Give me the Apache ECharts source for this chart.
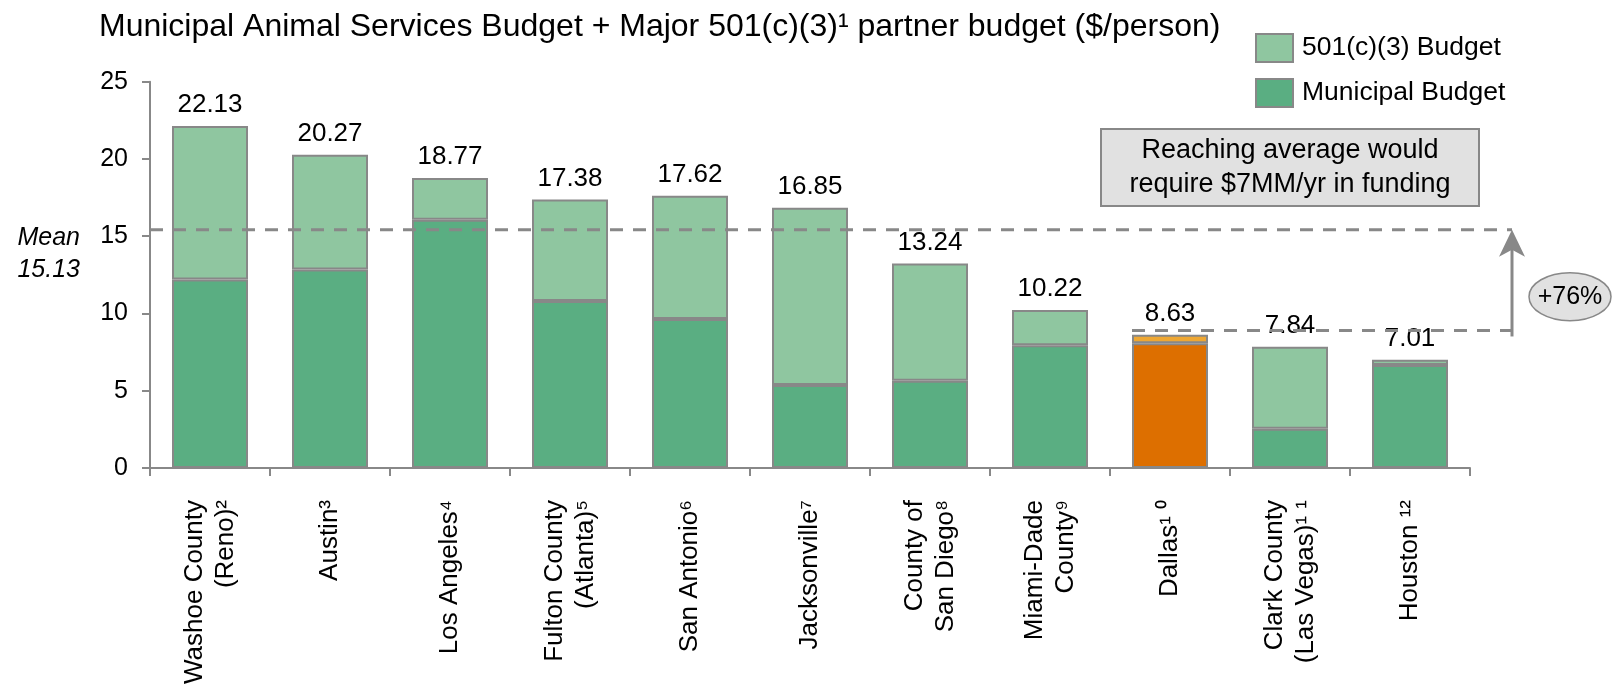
<!DOCTYPE html>
<html>
<head>
<meta charset="utf-8">
<script src="https://cdn.jsdelivr.net/npm/echarts@6/dist/echarts.min.js"></script>
<style>
html,body{margin:0;padding:0;background:#fff;}
#c{width:1622px;height:687px;}
</style>
</head>
<body>
<div id="c"></div>
<script>
// ---- data ----
var categories = ['Washoe County\n(Reno)²', 'Austin³', 'Los Angeles⁴', 'Fulton County\n(Atlanta)⁵', 'San Antonio⁶', 'Jacksonville⁷', 'County of\nSan Diego⁸', 'Miami-Dade\nCounty⁹', 'Dallas¹ ⁰', 'Clark County\n(Las Vegas)¹ ¹', 'Houston ¹²'];
var totals = [22.13, 20.27, 18.77, 17.38, 17.62, 16.85, 13.24, 10.22, 8.63, 7.84, 7.01];
var municipal = [12.2, 12.84, 16.06, 10.8, 9.64, 5.37, 5.65, 7.95, 8.08, 2.54, 6.66];
var partner = [9.93, 7.43, 2.71, 6.58, 7.98, 11.48, 7.59, 2.27, 0.55, 5.30, 0.35];
var yTicks = [0, 5, 10, 15, 20, 25];
var meanValue = '15.13';
var meanLineLevel = 15.42;
var dallasLineLevel = 8.9;
var highlightIndex = 8;
var upliftText = '+76%';
var calloutText = 'Reaching average would\nrequire $7MM/yr in funding';
var titleText = 'Municipal Animal Services Budget + Major 501(c)(3)¹ partner budget ($/person)';

var FONT = '"Liberation Sans", Arial, sans-serif';
var GREY = '#888888';
var DARK = '#5aae82', LIGHT = '#8fc6a0', ORANGE = '#dd6f00', LORANGE = '#eea733';

var chart = echarts.init(document.getElementById('c'), null, {renderer: 'canvas'});

var munData = municipal.map(function (v, i) {
  return i === highlightIndex ? {value: v, itemStyle: {color: ORANGE}} : v;
});
var partData = partner.map(function (v, i) {
  return i === highlightIndex ? {value: v, itemStyle: {color: LORANGE}} : v;
});

var option = {
  animation: false,
  backgroundColor: '#fff',
  textStyle: {fontFamily: FONT},
  title: {
    text: titleText, left: 99, top: 11, padding: 0,
    textStyle: {fontFamily: FONT, fontSize: 32, fontWeight: 'normal', color: '#000'}
  },
  legend: {
    data: ['501(c)(3) Budget', 'Municipal Budget'],
    orient: 'vertical', left: 1255, top: 33, padding: 0,
    itemWidth: 37, itemHeight: 28, itemGap: 15,
    icon: 'rect',
    textStyle: {fontFamily: FONT, fontSize: 26.5, color: '#000', padding: [0, 0, 0, 4]}
  },
  grid: {left: 150, right: 152, top: 81.7, bottom: 217.7, containLabel: false},
  xAxis: {
    type: 'category', data: categories,
    axisLine: {lineStyle: {color: GREY, width: 2}},
    axisTick: {show: true, length: 8, alignWithLabel: false, lineStyle: {color: GREY, width: 2}},
    axisLabel: {rotate: 90, margin: 32, fontFamily: FONT, fontSize: 26, lineHeight: 31, color: '#000', interval: 0}
  },
  yAxis: {
    type: 'value', min: yTicks[0], max: yTicks[yTicks.length - 1], interval: 5,
    axisLine: {show: true, lineStyle: {color: GREY, width: 2}},
    axisTick: {show: true, length: 8, lineStyle: {color: GREY, width: 2}},
    splitLine: {show: false},
    axisLabel: {margin: 22, fontFamily: FONT, fontSize: 25, color: '#000'}
  },
  series: [
    {
      name: 'Municipal Budget', type: 'bar', stack: 'total', barWidth: 76,
      data: munData,
      itemStyle: {color: DARK, borderColor: GREY, borderWidth: 2}
    },
    {
      name: '501(c)(3) Budget', type: 'bar', stack: 'total', barWidth: 76,
      data: partData,
      itemStyle: {color: LIGHT, borderColor: GREY, borderWidth: 2},
      label: {
        show: true, position: 'top', distance: 8,
        fontFamily: FONT, fontSize: 26, color: '#000',
        formatter: function (p) { return totals[p.dataIndex].toFixed(2); }
      }
    }
  ]
};
chart.setOption(option);

// ---- annotations positioned through the chart's own scales ----
var yMean = chart.convertToPixel({yAxisIndex: 0}, meanLineLevel);
var yDallas = chart.convertToPixel({yAxisIndex: 0}, dallasLineLevel);
var x0 = chart.convertToPixel({xAxisIndex: 0}, categories[0]) - 60;
var xDallas = chart.convertToPixel({xAxisIndex: 0}, categories[highlightIndex]) - 38;
var xEnd = 1622 - 152 + 42;
var dash = {stroke: GREY, lineWidth: 3, lineDash: [13, 10]};

chart.setOption({
  graphic: [
    {type: 'line', z: 50, shape: {x1: x0, y1: yMean, x2: xEnd, y2: yMean}, style: dash},
    {type: 'line', z: 50, shape: {x1: xDallas, y1: yDallas, x2: xEnd, y2: yDallas}, style: dash},
    {type: 'line', z: 50, shape: {x1: xEnd, y1: yDallas + 6, x2: xEnd, y2: yMean + 18}, style: {stroke: GREY, lineWidth: 3}},
    {type: 'polygon', z: 50, shape: {points: [[xEnd, yMean], [xEnd - 13, yMean + 27], [xEnd, yMean + 20], [xEnd + 13, yMean + 27]]}, style: {fill: GREY}},
    {type: 'text', z: 50, style: {text: 'Mean\n' + meanValue, x: 80, y: yMean + 24, align: 'right', verticalAlign: 'middle', font: 'italic 25px ' + FONT, lineHeight: 32, fill: '#000'}},
    {type: 'rect', z: 50, shape: {x: 1101, y: 129, width: 378, height: 77}, style: {fill: '#e1e1e1', stroke: GREY, lineWidth: 2}},
    {type: 'text', z: 51, style: {text: calloutText, x: 1290, y: 168, align: 'center', verticalAlign: 'middle', font: '27px ' + FONT, lineHeight: 34, fill: '#000'}},
    {type: 'ellipse', z: 50, shape: {cx: 1570, cy: yMean + 67, rx: 41, ry: 24}, style: {fill: '#e1e1e1', stroke: GREY, lineWidth: 1.5}},
    {type: 'text', z: 51, style: {text: upliftText, x: 1570, y: yMean + 67, align: 'center', verticalAlign: 'middle', font: '25px ' + FONT, fill: '#000'}}
  ]
});
</script>
</body>
</html>
